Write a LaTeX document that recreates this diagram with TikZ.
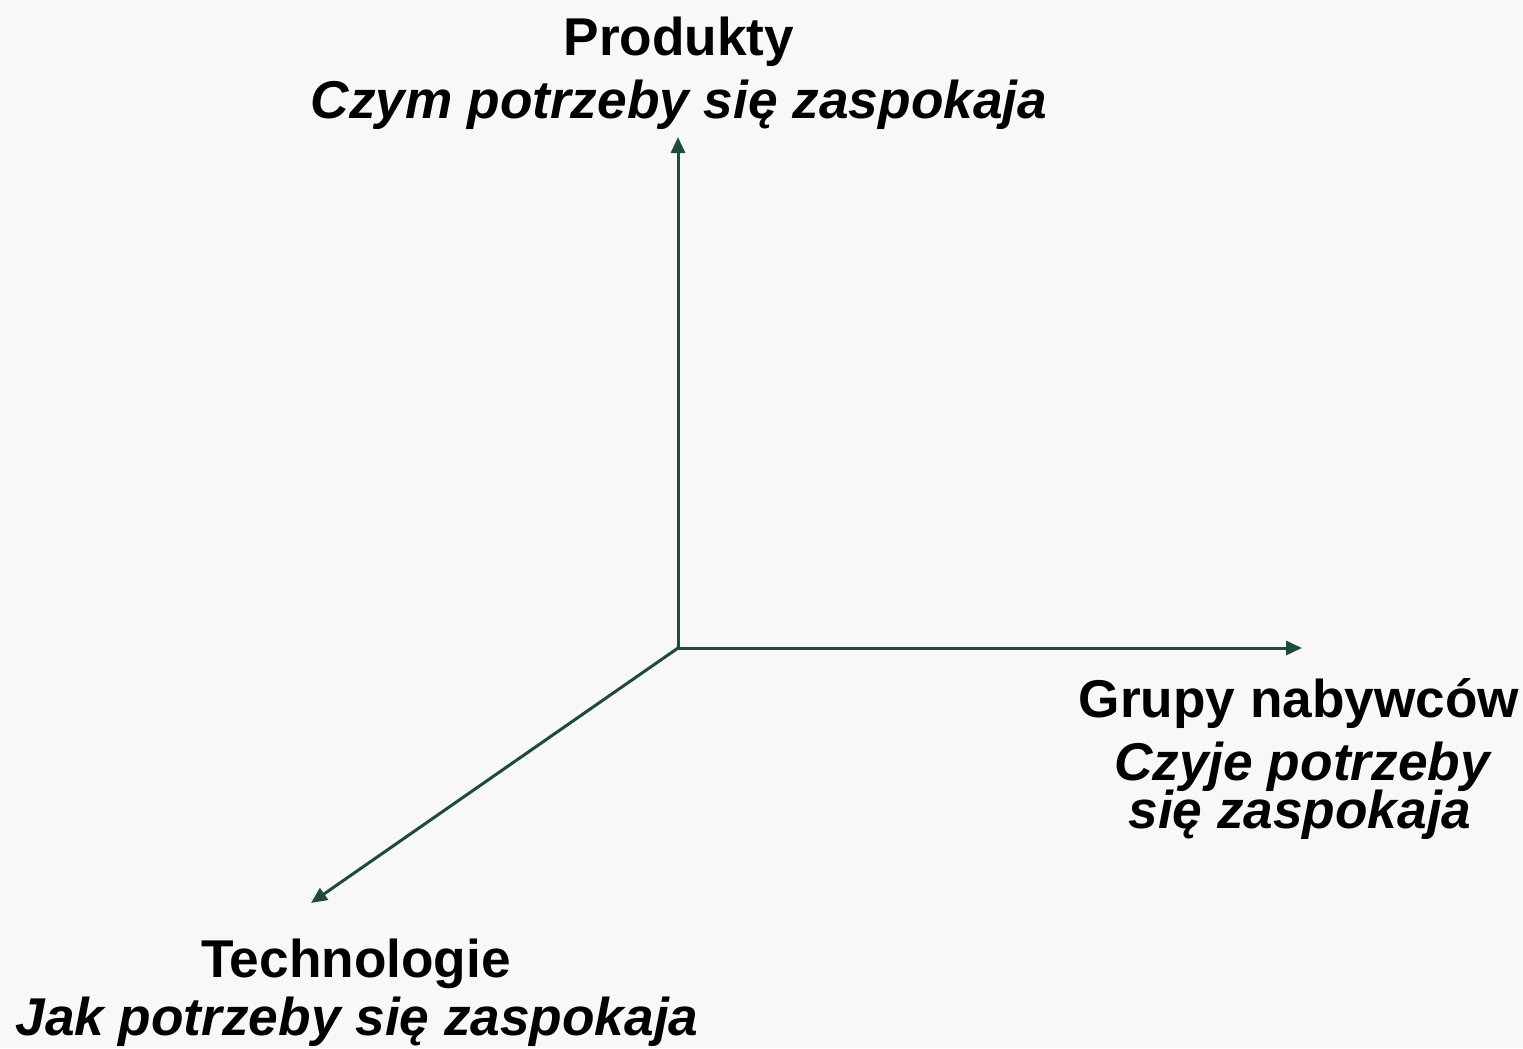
\documentclass[tikz,border=0pt]{standalone}
\usepackage{fontspec}
\setmainfont{Liberation Sans}
\usetikzlibrary{arrows.meta}
\definecolor{axis}{HTML}{1F4A3E}
\definecolor{bg}{HTML}{F8F8F8}
\tikzset{
  axisline/.style={draw=axis, line width=3bp, -{Triangle[length=16bp,width=14bp]}},
  lbl/.style={anchor=base, inner sep=0pt, font=\fontsize{53.2bp}{62bp}\selectfont\bfseries},
  sub/.style={lbl, font=\fontsize{53.2bp}{62bp}\selectfont\bfseries\itshape}
}
\begin{document}
\begin{tikzpicture}[x=1bp,y=-1bp]
\fill[bg] (0,0) rectangle (1523,1048);
\useasboundingbox (0,0) rectangle (1523,1048);
\coordinate (o) at (678,648);
\coordinate (up) at (678,137);
\coordinate (right) at (1302,648);
\coordinate (diag) at (311,903);
\draw[axisline] (o) -- (up);
\draw[axisline] (o) -- (right);
\draw[axisline] (o) -- (diag);
\node[lbl] (p1) at (679,55) {Produkty};
\node[sub] (p2) at (679,118) {Czym potrzeby się zaspokaja};
\node[lbl] (g1) at (1299,717) {Grupy nabywców};
\node[sub] (g2) at (1302,780) {Czyje potrzeby};
\node[sub] (g3) at (1300,828) {się zaspokaja};
\node[lbl] (t1) at (356,977) {Technologie};
\node[sub] (t2) at (357,1035) {Jak potrzeby się zaspokaja};
\end{tikzpicture}
\end{document}
